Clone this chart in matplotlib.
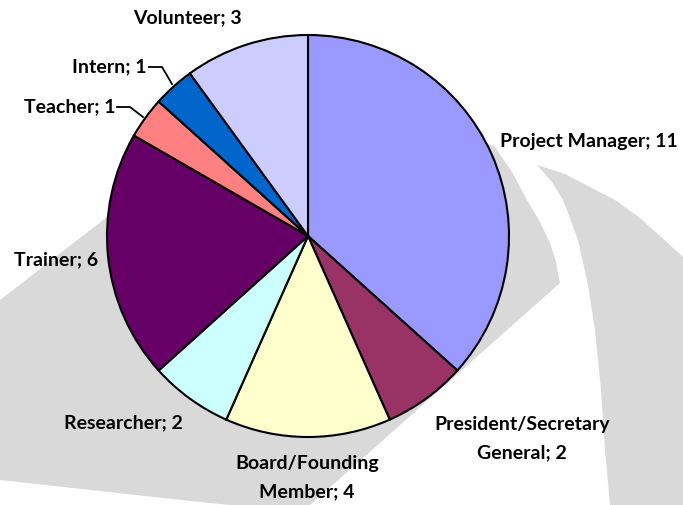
import matplotlib.pyplot as plt
from matplotlib.patches import Polygon

roles = ['Project Manager', 'President/Secretary\nGeneral', 'Board/Founding\nMember',
         'Researcher', 'Trainer', 'Teacher', 'Intern', 'Volunteer']
counts = [11, 2, 4, 2, 6, 1, 1, 3]
colors = ['#9999FF', '#993366', '#FFFFCC', '#CCFFFF', '#660066', '#FF8080', '#0066CC', '#CCCCFF']

W, H = 683, 505

# label anchors in pixel coords (y from top), alignment
label_pos = [(500, 142, 'left'), (522, 439, 'center'), (307, 478, 'center'),
             (123, 423, 'center'), (56, 260, 'center'), (115, 107, 'right'),
             (147, 67, 'right'), (187, 18, 'center')]

plt.rcParams['font.family'] = ['Lato', 'DejaVu Sans']

fig = plt.figure(figsize=(W / 100, H / 100), dpi=100)
ax = fig.add_axes([0, 0, 1, 1])


def flip(pts):
    return [(x, H - y) for x, y in pts]


# decorative gray swooshes in the background
grey = '#D9D9D9'
swoosh_a = [(0, 300), (107, 217), (250, 140), (420, 110), (495, 147), (512, 172),
            (527, 200), (540, 222), (550, 243), (556, 262), (560, 283),
            (310, 505), (230, 505), (200, 502), (0, 480)]
swoosh_b = [(537, 165), (565, 174), (590, 187), (615, 200), (640, 218), (660, 236),
            (683, 257), (683, 505), (610, 505), (605, 450), (601, 390), (595, 330),
            (588, 285), (578, 240), (570, 218), (563, 200), (552, 182)]
ax.add_patch(Polygon(flip(swoosh_a), closed=True, fc=grey, ec='none', zorder=0))
ax.add_patch(Polygon(flip(swoosh_b), closed=True, fc=grey, ec='none', zorder=0))

ax.pie(counts, colors=colors, startangle=90, counterclock=False,
       center=(308, H - 236), radius=201, frame=True,
       wedgeprops=dict(edgecolor='black', linewidth=1.5))
ax.set_xlim(0, W)
ax.set_ylim(0, H)
ax.set_aspect('equal')
ax.axis('off')

for role, n, (x, y, ha) in zip(roles, counts, label_pos):
    ax.text(x, H - y, f'{role}; {n}', ha=ha, va='center', fontsize=14,
            fontweight='bold', linespacing=1.8, color='black', zorder=5)

# leader lines for the small slices
ax.plot([117, 130, 143], [H - 107, H - 107, H - 117], color='black', lw=1.3, zorder=4)
ax.plot([149, 162, 172], [H - 67, H - 67, H - 84], color='black', lw=1.3, zorder=4)

fig.savefig('out.png', dpi=100)
